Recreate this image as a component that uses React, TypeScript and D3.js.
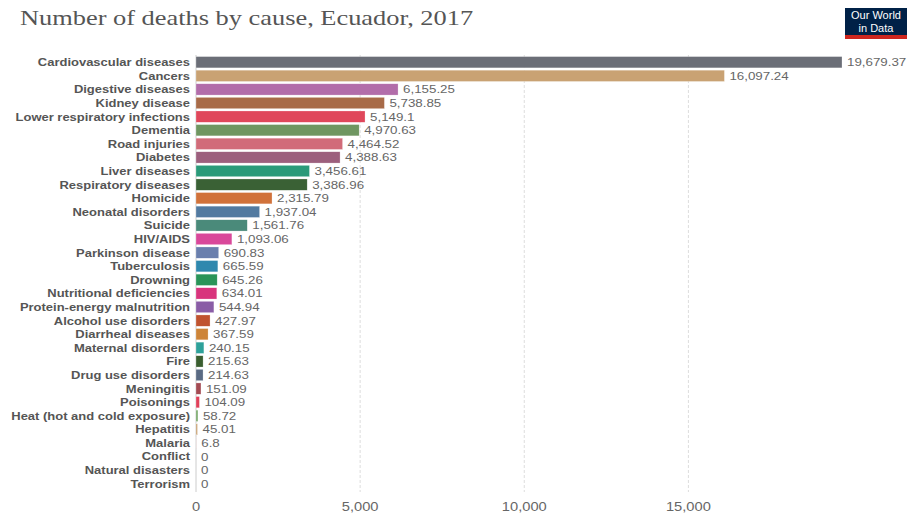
import React from "react";
import * as d3 from "d3";

const causes = [
  "Cardiovascular diseases", "Cancers", "Digestive diseases", "Kidney disease",
  "Lower respiratory infections", "Dementia", "Road injuries", "Diabetes",
  "Liver diseases", "Respiratory diseases", "Homicide", "Neonatal disorders",
  "Suicide", "HIV/AIDS", "Parkinson disease", "Tuberculosis", "Drowning",
  "Nutritional deficiencies", "Protein-energy malnutrition", "Alcohol use disorders",
  "Diarrheal diseases", "Maternal disorders", "Fire", "Drug use disorders",
  "Meningitis", "Poisonings", "Heat (hot and cold exposure)", "Hepatitis",
  "Malaria", "Conflict", "Natural disasters", "Terrorism",
];
const deaths = [
  19679.37, 16097.24, 6155.25, 5738.85, 5149.1, 4970.63, 4464.52, 4388.63,
  3456.61, 3386.96, 2315.79, 1937.04, 1561.76, 1093.06, 690.83, 665.59, 645.26,
  634.01, 544.94, 427.97, 367.59, 240.15, 215.63, 214.63, 151.09, 104.09, 58.72,
  45.01, 6.8, 0, 0, 0,
];
const colors = [
  "#6b6e77", "#c9a273", "#b26daa", "#a86b48", "#e0475b", "#6f9661", "#d16b79",
  "#9c5f7d", "#2a9a79", "#3a6135", "#d1723a", "#527aa0", "#4a8a7a", "#d9489a",
  "#6a7fad", "#2f88ae", "#2a9458", "#d8347c", "#8a5da6", "#c0532f", "#cd8438",
  "#2ea19a", "#3a5e2f", "#5a6a83", "#a34a52", "#e0405a", "#78a86a", "#c9a273",
  "#e8b8b8", "#cccccc", "#cccccc", "#cccccc",
];
const ticks = [0, 5000, 10000, 15000];
const title = "Number of deaths by cause, Ecuador, 2017";

const SANS = "'Liberation Sans', Arial, sans-serif";

export default function App() {
  const W = 911, H = 515;
  const x = d3.scaleLinear().domain([0, 19679.37]).range([196, 842]);
  const y = d3.scaleBand<string>().domain(causes).range([55.5, 490.5]).paddingInner(0.17).paddingOuter(0.08);
  const fmt = (v: number) => (v === 0 ? "0" : d3.format(",")(v));
  const sx = 1.16;
  return (
    <svg width={W} height={H} style={{ position: "absolute", left: 0, top: 0, background: "#fff" }}>
      <g transform={`translate(20,25) scale(1.2,1)`}>
        <text x={0} y={0} fontFamily="'Liberation Serif', 'DejaVu Serif', serif" fontSize={22} fill="#555">{title}</text>
      </g>
      <g>
        <rect x={845} y={8} width={62} height={28} fill="#002147" />
        <rect x={845} y={35} width={62} height={4} fill="#ce261e" />
        <text x={876} y={19} textAnchor="middle" fontFamily="'Liberation Sans Narrow', 'Liberation Sans', Arial, sans-serif" fontSize={11} fill="#fff">Our World</text>
        <text x={876} y={32} textAnchor="middle" fontFamily="'Liberation Sans Narrow', 'Liberation Sans', Arial, sans-serif" fontSize={11} fill="#fff">in Data</text>
      </g>
      {ticks.slice(1).map((t) => (
        <line key={t} x1={x(t)} x2={x(t)} y1={55} y2={492} stroke="#ddd" strokeDasharray="3,2" />
      ))}
      <line x1={x(0)} x2={x(0)} y1={55} y2={492} stroke="#ccc" />
      {causes.map((c, i) => {
        const yy = y(c)!;
        const bw = x(deaths[i]) - x(0);
        const cy = yy + y.bandwidth() / 2;
        return (
          <g key={c}>
            {deaths[i] > 0 && (
              <rect x={x(0)} y={yy} width={bw} height={y.bandwidth()} fill={colors[i]} stroke="rgba(255,255,255,0.5)" strokeWidth={0.5} />
            )}
            <g transform={`translate(190,${cy}) scale(${sx},1)`}>
              <text x={0} y={0} dy="0.35em" textAnchor="end" fontFamily={SANS} fontWeight="bold" fontSize={11.2} fill="#555">{c}</text>
            </g>
            <g transform={`translate(${x(deaths[i]) + 5},${cy}) scale(${sx},1)`}>
              <text x={0} y={0} dy="0.35em" fontFamily={SANS} fontSize={11.5} fill="#666">{fmt(deaths[i])}</text>
            </g>
          </g>
        );
      })}
      {ticks.map((t) => (
        <g key={t} transform={`translate(${x(t)},511) scale(1.13,1)`}>
          <text x={0} y={0} textAnchor="middle" fontFamily={SANS} fontSize={13} fill="#666">{d3.format(",")(t)}</text>
        </g>
      ))}
    </svg>
  );
}
